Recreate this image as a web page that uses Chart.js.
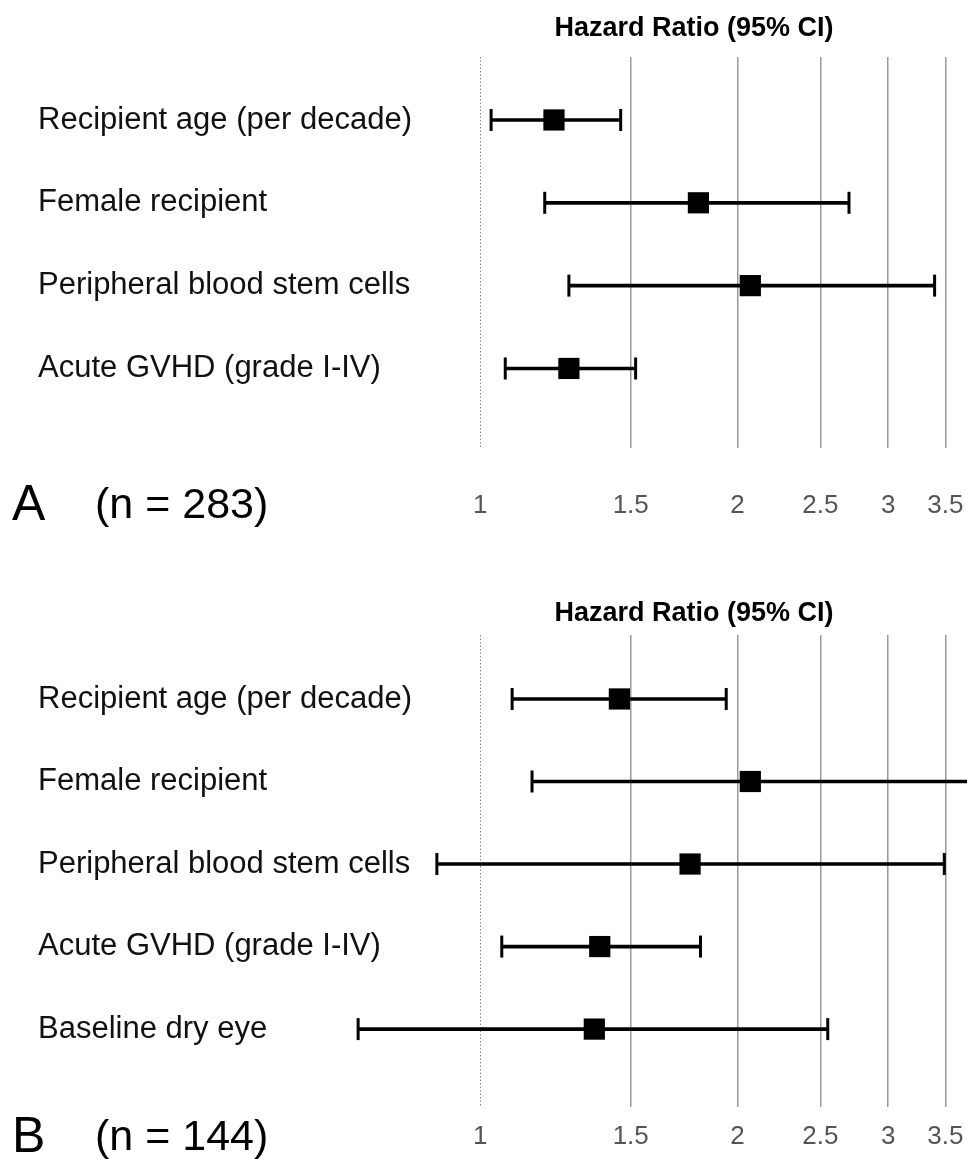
<!DOCTYPE html>
<html>
<head>
<meta charset="utf-8">
<script src="https://cdn.jsdelivr.net/npm/chart.js@4.4.1/dist/chart.umd.min.js"></script>
<style>
  html, body { margin: 0; padding: 0; background: #fff; overflow: hidden; }
  canvas { display: block; }
</style>
</head>
<body>
<canvas id="panelA" width="967" height="580"></canvas>
<canvas id="panelB" width="967" height="579"></canvas>
<script>
// hazard ratio axis ticks (log scale)
const xTicks = [1, 1.5, 2, 2.5, 3, 3.5];

// panel A (n = 283)
const labelsA = ['Recipient age (per decade)', 'Female recipient', 'Peripheral blood stem cells', 'Acute GVHD (grade I-IV)'];
const hrA = [1.22, 1.80, 2.07, 1.27];
const lowA = [1.03, 1.19, 1.27, 1.07];
const highA = [1.46, 2.70, 3.40, 1.52];

// panel B (n = 144)
const labelsB = ['Recipient age (per decade)', 'Female recipient', 'Peripheral blood stem cells', 'Acute GVHD (grade I-IV)', 'Baseline dry eye'];
const hrB = [1.455, 2.07, 1.76, 1.38, 1.36];
const lowB = [1.09, 1.15, 0.89, 1.06, 0.72];
const highB = [1.94, 4.0, 3.49, 1.81, 2.55];

const FONT = '"Liberation Sans", Arial, Helvetica, sans-serif';

const panelTextPlugin = {
  id: 'panelText',
  afterDraw(chart) {
    const opts = chart.options.plugins.panelText;
    if (!opts) {
      return;
    }
    const ctx = chart.ctx;
    ctx.save();
    ctx.fillStyle = '#000';
    ctx.textBaseline = 'middle';
    ctx.textAlign = 'center';
    ctx.font = 'bold 27px ' + FONT;
    ctx.fillText('Hazard Ratio (95% CI)', 694, opts.titleY);
    ctx.textAlign = 'left';
    ctx.font = '50px ' + FONT;
    ctx.fillText(opts.letter, 12, opts.footY);
    ctx.font = '43px ' + FONT;
    ctx.fillText(opts.n, 95, opts.footY);
    ctx.restore();
  },
};

function makeForest(id, labels, hr, low, high, layout) {
  const rows = labels.map((_, i) => i);
  const ctx = document.getElementById(id).getContext('2d');
  return new Chart(ctx, {
    type: 'scatter',
    data: {
      datasets: [
        {
          // point estimates
          data: rows.map((i) => ({ x: hr[i], y: i })),
          pointStyle: 'rect',
          pointRadius: 15,
          pointBackgroundColor: '#000',
          pointBorderWidth: 0,
        },
        {
          // whisker caps
          data: rows.map((i) => ({ x: low[i], y: i })).concat(rows.map((i) => ({ x: high[i], y: i }))),
          pointStyle: 'line',
          rotation: 90,
          pointRadius: 11,
          pointBorderColor: '#000',
          pointBorderWidth: 3,
        },
        {
          // confidence interval
          type: 'bar',
          indexAxis: 'y',
          data: rows.map((i) => ({ y: i, x: [low[i], high[i]] })),
          backgroundColor: '#000',
          borderWidth: 0,
          barThickness: 3,
        },
      ],
    },
    options: {
      responsive: false,
      animation: false,
      events: [],
      layout: { autoPadding: false, padding: { top: layout.top, left: 38, right: 0, bottom: 0 } },
      plugins: {
        legend: { display: false },
        tooltip: { enabled: false },
        panelText: { titleY: layout.titleY, footY: layout.footY, letter: layout.letter, n: layout.n },
      },
      scales: {
        x: {
          type: 'logarithmic',
          min: 0.682,
          max: 3.71,
          bounds: 'data',
          offset: false,
          afterBuildTicks(axis) {
            axis.ticks = xTicks.map((v) => ({ value: v }));
          },
          afterFit(axis) {
            axis.height = layout.xAxisHeight;
            axis.paddingLeft = 0;
            axis.paddingRight = 0;
          },
          border: {
            display: false,
            dash: (c) => (c.tick && c.tick.value === 1 ? [1.5, 2] : []),
          },
          grid: {
            offset: false,
            drawTicks: false,
            color: (c) => (c.tick && c.tick.value === 1 ? '#888' : '#9a9a9a'),
            lineWidth: (c) => (c.tick && c.tick.value === 1 ? 1 : 1.5),
          },
          ticks: {
            padding: layout.tickPad,
            color: '#555',
            font: { family: FONT, size: 26 },
            maxRotation: 0,
            autoSkip: false,
            callback: (v) => String(v),
          },
        },
        y: {
          type: 'linear',
          reverse: true,
          min: layout.yMin,
          max: layout.yMax,
          bounds: 'data',
          offset: false,
          afterBuildTicks(axis) {
            axis.ticks = rows.map((i) => ({ value: i }));
          },
          afterFit(axis) {
            axis.width = 300;
          },
          border: { display: false },
          grid: { display: false, drawTicks: false, offset: false },
          ticks: {
            // mirrored so the long labels are not clipped to the axis box
            mirror: true,
            crossAlign: 'near',
            padding: -300,
            color: '#111',
            font: { family: FONT, size: 31 },
            autoSkip: false,
            callback: (v) => labels[v],
          },
        },
      },
    },
    plugins: [panelTextPlugin],
  });
}

makeForest('panelA', labelsA, hrA, lowA, highA, {
  top: 57, xAxisHeight: 132, tickPad: 42, yMin: -0.76, yMax: 3.96,
  titleY: 29, footY: 506, letter: 'A', n: '(n = 283)',
});

makeForest('panelB', labelsB, hrB, lowB, highB, {
  top: 55, xAxisHeight: 52, tickPad: 14, yMin: -0.775, yMax: 4.944,
  titleY: 34, footY: 558, letter: 'B', n: '(n = 144)',
});
</script>
</body>
</html>
